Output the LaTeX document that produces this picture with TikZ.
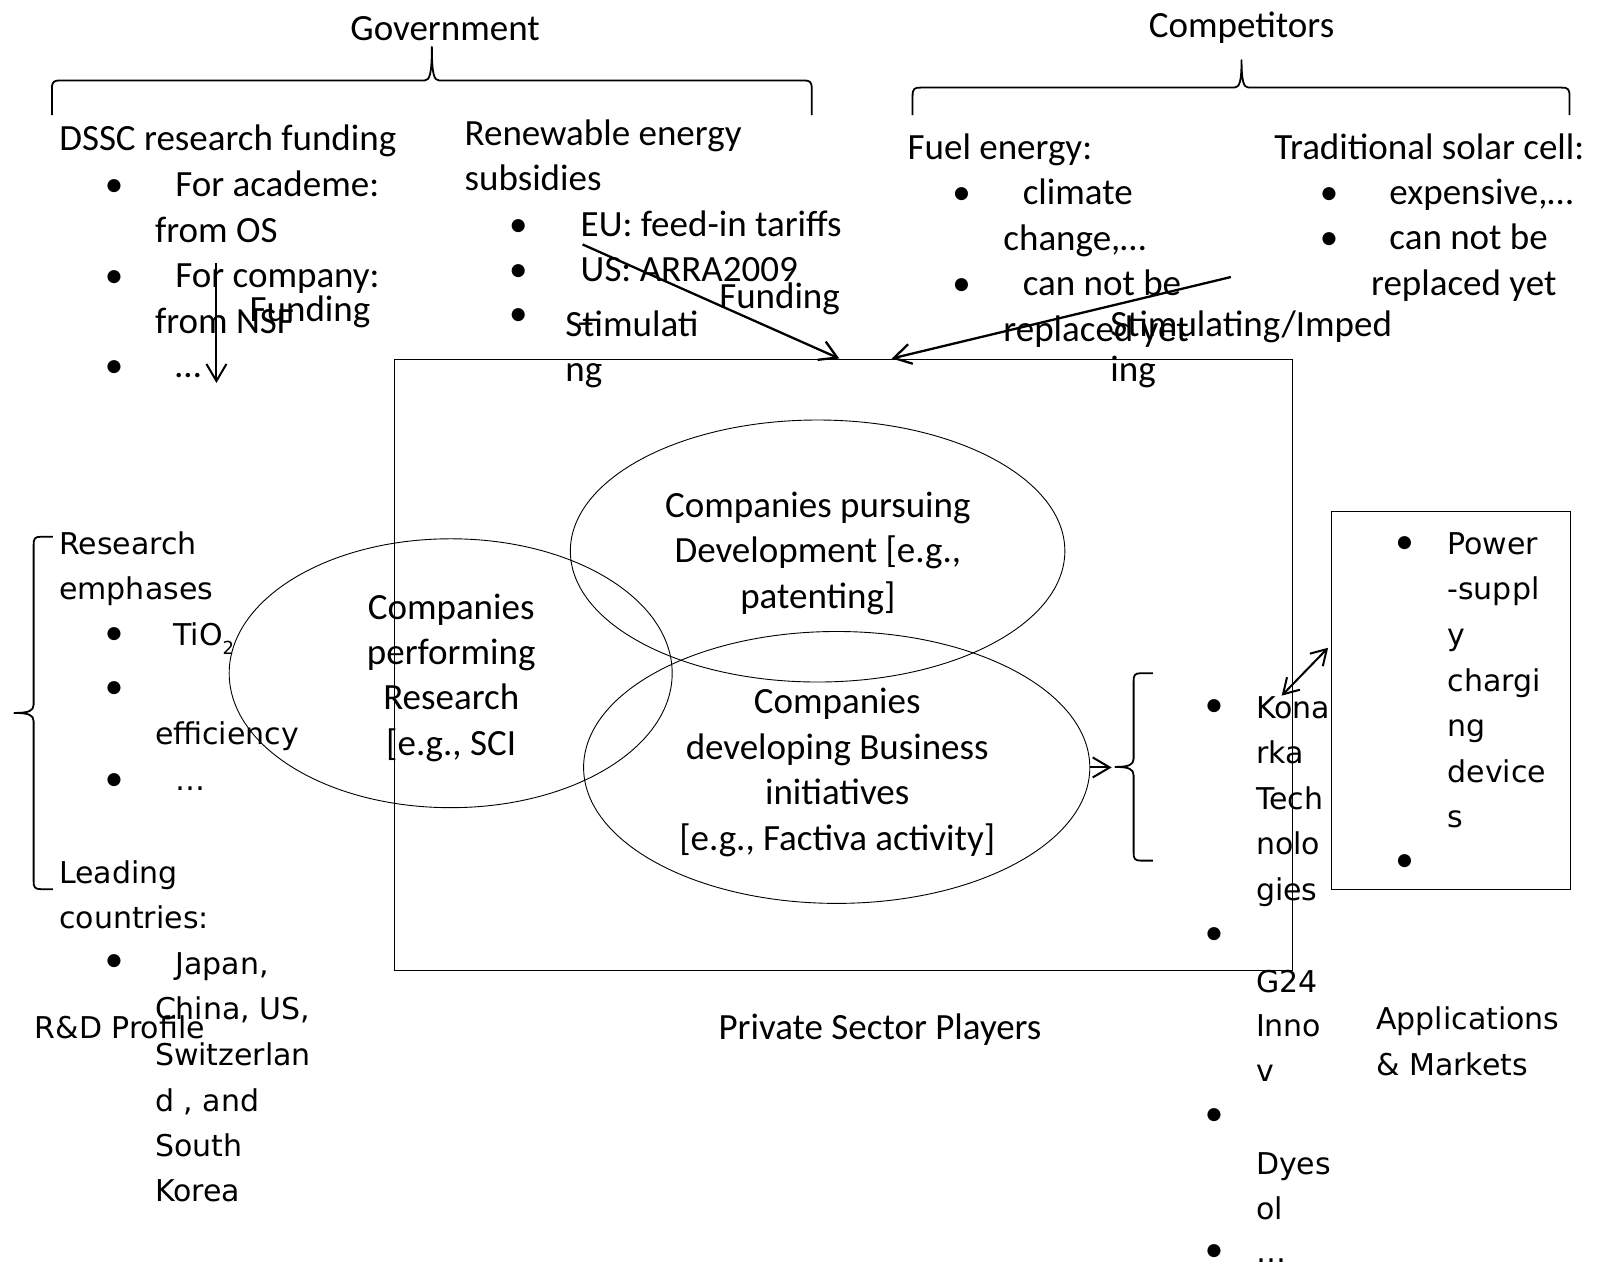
\documentclass[tikz,border=0pt]{standalone}
\usepackage{fontspec}
\setmainfont{Carlito}
\newfontfamily\dvs{DejaVu Sans}
\usetikzlibrary{arrows.meta,shapes.geometric}
\newcommand\calf{\fontsize{37}{44}\selectfont}
\newcommand\vdf{\dvs\fontsize{30}{44}\selectfont}
\tikzset{
  ct/.style={font=\calf, inner sep=0pt, anchor=base west},
  dt/.style={font=\vdf, inner sep=0pt, anchor=base west},
  arr/.style={line width=2pt, -{Straight Barb[length=17pt,width=20pt]}},
  darr/.style={line width=2pt, {Straight Barb[length=15pt,width=18pt]}-{Straight Barb[length=15pt,width=18pt]}},
  brace/.style={line width=1.8pt, line join=round},
  oval/.style={draw, ellipse, line width=0.9pt, inner sep=0pt},
  frame/.style={draw, rectangle, line width=1.1pt, inner sep=0pt}
}
\newcommand\Lc[4]{\node[ct] (#1) at (#2,#3) {#4};}
\newcommand\Cc[4]{\node[ct,anchor=base] (#1) at (#2,#3) {#4};}
\newcommand\Bc[3]{\node[ct,anchor=base] (#1) at (#2,#3) {•};}
\newcommand\Ld[4]{\node[dt] (#1) at (#2,#3) {#4};}
\newcommand\Bd[3]{\node[ct,anchor=base] (#1) at (#2,#3) {•};}
\begin{document}
\begin{tikzpicture}[x=1.0185pt,y=-1.0185pt]
\fill[white] (0,0) rectangle (1568,1248);
\useasboundingbox (0,0) rectangle (1568,1248);

% ---------- titles and braces
\Cc{gov}{437}{40}{Government}
\Cc{comp}{1219}{37}{Competitors}
\draw[brace] (51,113) -- (51,87) .. controls (51,80) and (53,79) .. (59,79) -- (417,79)
  .. controls (422,79) and (424,72) .. (424,46) .. controls (424,72) and (426,79) .. (431,79)
  -- (789,79) .. controls (795,79) and (797,80) .. (797,87) -- (797,113);
\draw[brace] (896,113) -- (896,94) .. controls (896,87) and (898,86) .. (904,86) -- (1212,86)
  .. controls (1217,86) and (1219,80) .. (1219,59) .. controls (1219,80) and (1221,86) .. (1226,86)
  -- (1533,86) .. controls (1539,86) and (1541,87) .. (1541,94) -- (1541,113);

% ---------- government, left block
\Lc{dssc}{58}{148}{DSSC research funding}
\Bc{b1}{112}{193}\Lc{acad}{172}{193}{For academe:}
\Lc{os}{152}{238}{from OS}
\Bc{b2}{112}{282}\Lc{forc}{172}{282}{For company:}
\Lc{nsf}{152}{327}{from NSF}
\Bc{b3}{112}{371}\Lc{dotsa}{172}{371}{…}

% ---------- government, right block
\Lc{ren1}{456}{143}{Renewable energy}
\Lc{ren2}{456}{187}{subsidies}
\Bc{b4}{509}{232}\Lc{eu}{570}{232}{EU: feed-in tariffs}
\Bc{b5}{509}{276}\Lc{us}{570}{276}{US: ARRA2009}
\Bc{b6}{509}{320}\Lc{dsh}{566}{328}{–}

% ---------- competitors
\Lc{fuel}{891}{157}{Fuel energy:}
\Bc{b7}{944}{201}\Lc{clim}{1004}{201}{climate}
\Lc{chg}{985}{246}{change,…}
\Bc{b8}{944}{290}\Lc{cnba}{1004}{290}{can not be}
\Lc{repa}{985}{335}{replaced yet}
\Lc{trad}{1251}{157}{Traditional solar cell:}
\Bc{b9}{1305}{201}\Lc{expn}{1364}{201}{expensive,…}
\Bc{b10}{1305}{245}\Lc{cnbb}{1364}{245}{can not be}
\Lc{repb}{1346}{290}{replaced yet}

% ---------- connector labels
\Lc{fundL}{245}{316}{Funding}
\Lc{fundR}{706}{303}{Funding}
\Lc{stima}{555}{330}{Stimulati}
\Lc{stimb}{555}{375}{ng}
\Lc{sia}{1090}{330}{Stimulating/Imped}
\Lc{sib}{1090}{375}{ing}

% ---------- private sector box and ellipses
\node[frame, minimum width=898.3pt, minimum height=611.1pt] (psbox) at (828,653) {};
\node[oval, minimum width=443pt, minimum height=268.9pt] (res) at (442.5,661) {};
\node[oval, minimum width=494.5pt, minimum height=262pt] (dev) at (802.75,541) {};
\node[oval, minimum width=506.2pt, minimum height=271.9pt] (bus) at (821.5,753.5) {};

\Cc{deva}{803}{508}{Companies pursuing}
\Cc{devb}{803}{552}{Development [e.g.,}
\Cc{devc}{803}{597}{patenting]}
\Cc{resa}{443}{608}{Companies}
\Cc{resb}{443}{652}{performing}
\Cc{resc}{443}{697}{Research}
\Cc{resd}{443}{742}{[e.g., SCI}
\Cc{busa}{822}{701}{Companies}
\Cc{busb}{822}{746}{developing Business}
\Cc{busc}{822}{790}{initiatives}
\Cc{busd}{822}{835}{[e.g., Factiva activity]}
\Cc{psp}{864}{1021}{Private Sector Players}

% ---------- R&D profile
\draw[brace] (52,527) -- (40,527) .. controls (34,527) and (33,529) .. (33,535) -- (33,692)
  .. controls (33,698) and (28,700) .. (14,700) .. controls (28,700) and (33,702) .. (33,708)
  -- (33,865) .. controls (33,871) and (34,873) .. (40,873) -- (52,873);
\Ld{rese}{58}{544}{Research}
\Ld{emph}{58}{589}{emphases}
\Bd{b11}{112}{633}\Ld{tio}{170}{634}{TiO\raisebox{-9pt}{\fontsize{18}{18}\selectfont 2}}
\Bd{b12}{112}{686}
\Ld{eff}{152}{731}{efficiency}
\Bd{b13}{112}{776}\Ld{dotsb}{172}{776}{…}
\Ld{lead}{58}{867}{Leading}
\Ld{ctry}{58}{912}{countries:}
\Bd{b14}{112}{954}\Ld{jap}{172}{957}{Japan,}
\Ld{chn}{152}{1001}{China, US,}
\Ld{swz}{152}{1046}{Switzerlan}
\Ld{dand}{152}{1091}{d , and}
\Ld{south}{152}{1135}{South}
\Ld{korea}{152}{1180}{Korea}
\Ld{rdp}{34}{1020}{R\&D Profile}

% ---------- companies list
\draw[brace] (1132,661) -- (1120,661) .. controls (1114,661) and (1113,663) .. (1113,669) -- (1113,745)
  .. controls (1113,751) and (1108,753) .. (1095,753) .. controls (1108,753) and (1113,755) .. (1113,761)
  -- (1113,837) .. controls (1113,843) and (1114,845) .. (1120,845) -- (1132,845);
\Bd{b15}{1192}{703}\Ld{kona}{1233}{705}{Kona}
\Ld{konb}{1233}{750}{rka}
\Ld{konc}{1233}{795}{Tech}
\Ld{kond}{1233}{839}{nolo}
\Ld{kone}{1233}{884}{gies}
\Bd{b16}{1192}{927}
\Ld{ga}{1233}{974}{G24}
\Ld{gb}{1233}{1018}{Inno}
\Ld{gc}{1233}{1062}{v}
\Bd{b17}{1192}{1105}
\Ld{dya}{1233}{1153}{Dyes}
\Ld{dyb}{1233}{1197}{ol}
\Bd{b18}{1192}{1239}\Ld{dotsc}{1233}{1240}{…}

% ---------- applications & markets
\node[frame, minimum width=239.3pt, minimum height=377.9pt] (appbox) at (1424.5,687.5) {};
\Bd{b19}{1379}{543}\Ld{pwa}{1421}{544}{Power}
\Ld{pwb}{1421}{589}{-suppl}
\Ld{pwc}{1421}{634}{y}
\Ld{pwd}{1421}{679}{chargi}
\Ld{pwe}{1421}{723}{ng}
\Ld{pwf}{1421}{768}{device}
\Ld{pwg}{1421}{812}{s}
\Bd{b20}{1379}{856}
\Ld{appa}{1351}{1011}{Applications}
\Ld{appb}{1351}{1056}{\& Markets}

% ---------- connectors
\coordinate (fs) at (212.5,258);
\coordinate (fe) at (212.5,376);
\draw[arr] (fs) -- (fe);
\coordinate (a1s) at (572,240);
\coordinate (a1e) at (824,352);
\draw[arr, line width=2.3pt] (a1s) -- (a1e);
\coordinate (a2s) at (1208.5,272);
\coordinate (a2e) at (875.5,352);
\draw[arr, line width=2.3pt] (a2s) -- (a2e);
\coordinate (bt) at (1091.5,753.5);
\draw[arr] (bus.east) -- (bt);
\coordinate (da) at (1258.4,683);
\coordinate (db) at (1304,636);
\draw[darr] (da) -- (db);
\end{tikzpicture}
\end{document}
